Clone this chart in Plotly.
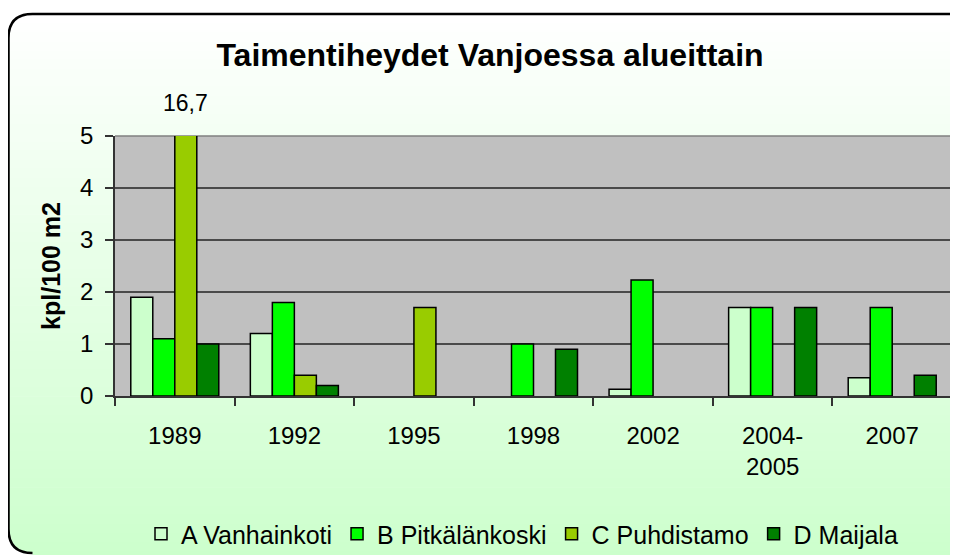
import plotly.graph_objects as go

# ---- data ----
categories = ["1989", "1992", "1995", "1998", "2002", "2004-<br>2005", "2007"]
series_names = ["A Vanhainkoti", "B Pitkälänkoski", "C Puhdistamo", "D Maijala"]
a_vanhainkoti = [1.9, 1.2, None, None, 0.13, 1.7, 0.35]
b_pitkalankoski = [1.1, 1.8, None, 1.0, 2.23, 1.7, 1.7]
c_puhdistamo = [16.7, 0.4, 1.7, None, None, None, None]
d_maijala = [1.0, 0.2, None, 0.9, None, 1.7, 0.4]
y_ticks = [0, 1, 2, 3, 4, 5]
title_text = "Taimentiheydet Vanjoessa alueittain"
y_title = "kpl/100 m2"
clipped_label = "16,7"

colors = ["#ccffcc", "#00ff00", "#99cc00", "#008000"]
FONT = "Liberation Sans, Arial, sans-serif"

# the page body has an 8px margin; the figure is sized to fill the rest
OFF = 8
W, H = 958 - OFF, 555 - OFF
# plot area in screen pixels: x 115..952, y 136..396
ML = 115 - OFF
MT = 136 - OFF
MR = W - (952 - OFF)
MB = H - (396 - OFF)
PW, PH = W - ML - MR, H - MT - MB


def px_x(sx):
    return (sx - OFF - ML) / PW


def px_y(sy):
    return (H - MB - (sy - OFF)) / PH


def P(x, y):
    return "%.5f,%.5f" % (px_x(x), px_y(y))


fig = go.Figure()
for name, vals, col in zip(series_names, [a_vanhainkoti, b_pitkalankoski, c_puhdistamo, d_maijala], colors):
    fig.add_trace(go.Bar(
        name=name, x=categories, y=vals,
        marker=dict(color=col, line=dict(color="#000000", width=1.5)),
    ))

# background gradient bands inside the rounded frame
shapes = []
top, bottom = 14, 560
n = 60
c0 = (255, 255, 255)
c1 = (204, 255, 204)
step = (bottom - top) / n
for i in range(n):
    t = (i + 0.5) / n
    c = tuple(round(c0[k] + (c1[k] - c0[k]) * t) for k in range(3))
    shapes.append(dict(
        type="rect", xref="paper", yref="paper", layer="below",
        x0=px_x(8.5), x1=px_x(975),
        y0=px_y(top + i * step), y1=px_y(top + (i + 1) * step + 0.6),
        fillcolor="rgb(%d,%d,%d)" % c, line=dict(width=0),
    ))

# white patches outside the rounded corners
r = 24
tl = "M %s L %s L %s Q %s %s L %s Z" % (P(0, 0), P(0, 14 + r), P(8.5, 14 + r), P(8.5, 14), P(8.5 + r, 14), P(8.5 + r, 0))
bl = "M %s L %s Q %s %s L %s L %s Z" % (P(0, 553 - r), P(8.5, 553 - r), P(8.5, 553), P(8.5 + r, 553), P(8.5 + r, 560), P(0, 560))
trc = "M %s L %s Q %s %s L %s L %s Z" % (P(948, 0), P(948, 14), P(962, 14), P(972, 30), P(972, 0), P(948, 0))
for pth in (tl, bl, trc):
    shapes.append(dict(type="path", xref="paper", yref="paper", layer="below",
                       path=pth, fillcolor="#ffffff", line=dict(width=0)))

# grey plot area (shapes sit above plot_bgcolor, so repaint it)
shapes.append(dict(type="rect", xref="paper", yref="paper", layer="below",
                   x0=0, x1=1, y0=0, y1=1, fillcolor="#c0c0c0", line=dict(width=0)))
# lighter top gridline as in the reference
shapes.append(dict(type="line", xref="paper", yref="paper", layer="below",
                   x0=0, x1=1, y0=1, y1=1, line=dict(color="#808080", width=1.5)))

# rounded frame
frame = "M %s Q %s %s L %s Q %s %s L %s Q %s %s" % (
    P(8.5 + r, 553), P(8.5, 553), P(8.5, 553 - r),
    P(8.5, 14 + r), P(8.5, 14), P(8.5 + r, 14),
    P(948, 14), P(962, 14), P(972, 30))
shapes.append(dict(type="path", xref="paper", yref="paper", layer="below",
                   path=frame, line=dict(color="#000000", width=2.5)))

fig.update_layout(
    width=W, height=H,
    margin=dict(l=ML, r=MR, t=MT, b=MB, pad=0, autoexpand=False),
    paper_bgcolor="#ffffff",
    plot_bgcolor="#c0c0c0",
    font=dict(family=FONT, color="#000000", size=23),
    barmode="group",
    bargap=0.264,
    bargroupgap=0,
    shapes=shapes,
    title=dict(text="<b>%s</b>" % title_text, font=dict(size=32, family=FONT),
               x=(490 - OFF) / W, xref="container", xanchor="center",
               y=1 - (55 - OFF) / H, yref="container", yanchor="middle"),
    showlegend=True,
    legend=dict(orientation="h", x=px_x(522), xanchor="center", y=px_y(534), yanchor="middle",
                font=dict(size=25, family=FONT), bgcolor="rgba(0,0,0,0)",
                traceorder="normal", itemwidth=30),
    xaxis=dict(
        type="category", range=[-0.5, 6.5], showgrid=False, showline=True,
        linecolor="#333333", linewidth=1.5,
        ticks="outside", tickson="boundaries", ticklen=8, tickcolor="#333333", tickwidth=1.5,
        tickfont=dict(size=24), tickangle=0, zeroline=False, automargin=False,
        ticklabelstandoff=17,
    ),
    yaxis=dict(
        range=[0, 5], tickvals=y_ticks, showgrid=True, gridcolor="#4a4a4a", gridwidth=1.5,
        showline=True, linecolor="#333333", linewidth=1.5, ticks="outside", ticklen=8,
        tickcolor="#333333", tickwidth=1.5, tickfont=dict(size=24), zeroline=False,
        automargin=False, ticklabelstandoff=7,
        title=dict(text="<b>%s</b>" % y_title, font=dict(size=25), standoff=12),
    ),
)

fig.add_annotation(
    x=0, y=px_y(103), xref="x", yref="paper", xshift=11, yanchor="middle",
    text=clipped_label, showarrow=False, font=dict(size=23, family=FONT),
)

fig.write_html("out.html")
